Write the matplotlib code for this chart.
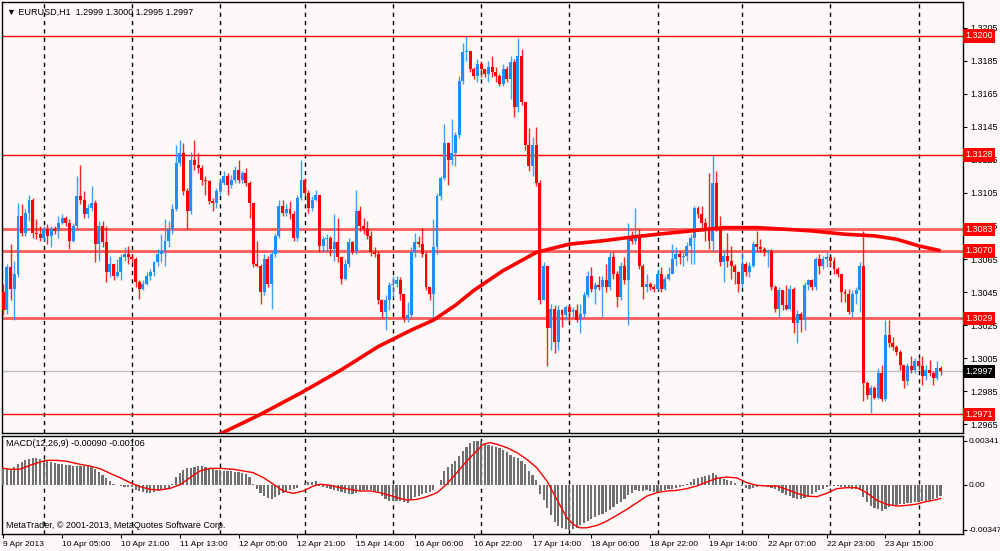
import numpy as np
import matplotlib
matplotlib.use("Agg")
import matplotlib.pyplot as plt
import matplotlib.transforms as mtrans

# EURUSD H1 bars, 9 Apr 2013 13:00 .. 24 Apr 06:00
opens = [1.3045, 1.3034, 1.3060, 1.3047, 1.3056, 1.3091, 1.3081, 1.3093, 1.3101, 1.3081, 1.3080, 1.3078, 1.3083, 1.3079, 1.3083, 1.3082,
         1.3087, 1.3090, 1.3087, 1.3076, 1.3085, 1.3103, 1.3101, 1.3092, 1.3096, 1.3099, 1.3074, 1.3085, 1.3075, 1.3057, 1.3062, 1.3055,
         1.3057, 1.3066, 1.3068, 1.3066, 1.3065, 1.3051, 1.3047, 1.3050, 1.3055, 1.3057, 1.3063, 1.3068, 1.3070, 1.3076, 1.3083, 1.3095,
         1.3123, 1.3129, 1.3106, 1.3094, 1.3125, 1.3122, 1.3120, 1.3113, 1.3112, 1.3100, 1.3099, 1.3106, 1.3111, 1.3115, 1.3110, 1.3113,
         1.3119, 1.3113, 1.3117, 1.3111, 1.3099, 1.3062, 1.3061, 1.3045, 1.3065, 1.3050, 1.3068, 1.3079, 1.3097, 1.3093, 1.3095, 1.3092,
         1.3078, 1.3102, 1.3113, 1.3105, 1.3096, 1.3101, 1.3104, 1.3073, 1.3077, 1.3078, 1.3071, 1.3075, 1.3066, 1.3053, 1.3062, 1.3075,
         1.3070, 1.3094, 1.3085, 1.3083, 1.3079, 1.3069, 1.3068, 1.3040, 1.3033, 1.3040, 1.3049, 1.3050, 1.3052, 1.3044, 1.3029, 1.3031,
         1.3069, 1.3075, 1.3074, 1.3068, 1.3048, 1.3044, 1.3072, 1.3103, 1.3114, 1.3135, 1.3125, 1.3129, 1.3140, 1.3173, 1.3190, 1.3191,
         1.3180, 1.3176, 1.3183, 1.3180, 1.3177, 1.3181, 1.3178, 1.3176, 1.3171, 1.3180, 1.3174, 1.3184, 1.3157, 1.3188, 1.3160, 1.3134,
         1.3121, 1.3134, 1.3111, 1.3040, 1.3061, 1.3023, 1.3035, 1.3015, 1.3034, 1.3031, 1.3036, 1.3033, 1.3034, 1.3028, 1.3032, 1.3043,
         1.3055, 1.3047, 1.3049, 1.3048, 1.3052, 1.3048, 1.3066, 1.3056, 1.3042, 1.3061, 1.3052, 1.3078, 1.3076, 1.3079, 1.3061, 1.3048,
         1.3050, 1.3048, 1.3047, 1.3056, 1.3047, 1.3053, 1.3056, 1.3065, 1.3068, 1.3066, 1.3067, 1.3073, 1.3078, 1.3096, 1.3092, 1.3087,
         1.3083, 1.3076, 1.3111, 1.3084, 1.3063, 1.3067, 1.3064, 1.3061, 1.3057, 1.3050, 1.3062, 1.3057, 1.3061, 1.3074, 1.3072, 1.3071,
         1.3069, 1.3070, 1.3048, 1.3035, 1.3046, 1.3037, 1.3035, 1.3047, 1.3026, 1.3032, 1.3028, 1.3049, 1.3052, 1.3048, 1.3065, 1.3061,
         1.3065, 1.3066, 1.3064, 1.3059, 1.3056, 1.3045, 1.3044, 1.3033, 1.3044, 1.3046, 1.3061, 1.2990, 1.2983, 1.2987, 1.2981, 1.2996,
         1.2980, 1.3019, 1.3014, 1.3012, 1.3009, 1.3001, 1.2991, 1.3000, 1.2998, 1.3003, 1.3000, 1.2994, 1.2998, 1.2996, 1.2993, 1.2999]
highs = [1.3050, 1.3062, 1.3074, 1.3064, 1.3099, 1.3098, 1.3095, 1.3104, 1.3102, 1.3089, 1.3085, 1.3085, 1.3086, 1.3085, 1.3085, 1.3091,
         1.3092, 1.3091, 1.3089, 1.3087, 1.3115, 1.3122, 1.3106, 1.3098, 1.3109, 1.3101, 1.3088, 1.3088, 1.3085, 1.3067, 1.3062, 1.3065,
         1.3068, 1.3072, 1.3073, 1.3068, 1.3066, 1.3052, 1.3052, 1.3057, 1.3059, 1.3064, 1.3071, 1.3080, 1.3089, 1.3088, 1.3098, 1.3134,
         1.3137, 1.3135, 1.3108, 1.3130, 1.3137, 1.3129, 1.3122, 1.3115, 1.3113, 1.3102, 1.3108, 1.3114, 1.3118, 1.3117, 1.3116, 1.3121,
         1.3125, 1.3118, 1.3120, 1.3112, 1.3099, 1.3076, 1.3062, 1.3068, 1.3067, 1.3070, 1.3081, 1.3101, 1.3101, 1.3098, 1.3100, 1.3094,
         1.3104, 1.3125, 1.3114, 1.3107, 1.3103, 1.3107, 1.3104, 1.3079, 1.3080, 1.3079, 1.3092, 1.3090, 1.3066, 1.3065, 1.3078, 1.3076,
         1.3107, 1.3097, 1.3090, 1.3088, 1.3082, 1.3072, 1.3070, 1.3041, 1.3043, 1.3051, 1.3055, 1.3055, 1.3054, 1.3044, 1.3039, 1.3072,
         1.3081, 1.3079, 1.3084, 1.3069, 1.3048, 1.3089, 1.3105, 1.3115, 1.3147, 1.3136, 1.3150, 1.3142, 1.3176, 1.3196, 1.3200, 1.3191,
         1.3181, 1.3186, 1.3185, 1.3180, 1.3185, 1.3188, 1.3181, 1.3177, 1.3183, 1.3182, 1.3188, 1.3186, 1.3199, 1.3192, 1.3160, 1.3144,
         1.3139, 1.3145, 1.3113, 1.3063, 1.3061, 1.3038, 1.3037, 1.3037, 1.3035, 1.3037, 1.3037, 1.3036, 1.3038, 1.3038, 1.3045, 1.3058,
         1.3060, 1.3051, 1.3055, 1.3055, 1.3062, 1.3069, 1.3069, 1.3058, 1.3063, 1.3066, 1.3087, 1.3082, 1.3096, 1.3083, 1.3062, 1.3056,
         1.3051, 1.3050, 1.3059, 1.3060, 1.3055, 1.3060, 1.3074, 1.3072, 1.3070, 1.3070, 1.3075, 1.3080, 1.3097, 1.3097, 1.3097, 1.3090,
         1.3117, 1.3128, 1.3118, 1.3091, 1.3070, 1.3081, 1.3073, 1.3062, 1.3058, 1.3069, 1.3063, 1.3063, 1.3076, 1.3082, 1.3077, 1.3072,
         1.3071, 1.3071, 1.3049, 1.3048, 1.3046, 1.3049, 1.3049, 1.3048, 1.3034, 1.3033, 1.3051, 1.3053, 1.3053, 1.3066, 1.3068, 1.3067,
         1.3069, 1.3067, 1.3066, 1.3060, 1.3056, 1.3047, 1.3047, 1.3046, 1.3048, 1.3063, 1.3082, 1.2991, 1.2989, 1.2988, 1.2999, 1.3001,
         1.3028, 1.3028, 1.3018, 1.3013, 1.3010, 1.3001, 1.3002, 1.3006, 1.3005, 1.3005, 1.3006, 1.3001, 1.3004, 1.2997, 1.3003, 1.3000]
lows = [1.3031, 1.3032, 1.3040, 1.3028, 1.3054, 1.3079, 1.3079, 1.3088, 1.3078, 1.3077, 1.3076, 1.3076, 1.3074, 1.3072, 1.3080, 1.3078,
        1.3086, 1.3085, 1.3071, 1.3075, 1.3084, 1.3098, 1.3090, 1.3090, 1.3094, 1.3063, 1.3064, 1.3072, 1.3051, 1.3054, 1.3052, 1.3054,
        1.3052, 1.3064, 1.3062, 1.3063, 1.3048, 1.3041, 1.3046, 1.3049, 1.3052, 1.3055, 1.3061, 1.3063, 1.3061, 1.3072, 1.3080, 1.3094,
        1.3121, 1.3104, 1.3083, 1.3092, 1.3119, 1.3117, 1.3110, 1.3104, 1.3098, 1.3094, 1.3096, 1.3104, 1.3110, 1.3104, 1.3108, 1.3111,
        1.3111, 1.3111, 1.3109, 1.3090, 1.3060, 1.3060, 1.3038, 1.3043, 1.3048, 1.3035, 1.3066, 1.3078, 1.3091, 1.3091, 1.3089, 1.3076,
        1.3076, 1.3101, 1.3103, 1.3093, 1.3094, 1.3100, 1.3069, 1.3069, 1.3069, 1.3067, 1.3064, 1.3063, 1.3050, 1.3052, 1.3060, 1.3068,
        1.3068, 1.3082, 1.3080, 1.3077, 1.3067, 1.3066, 1.3038, 1.3030, 1.3022, 1.3034, 1.3042, 1.3048, 1.3040, 1.3027, 1.3027, 1.3030,
        1.3066, 1.3072, 1.3066, 1.3046, 1.3040, 1.3028, 1.3068, 1.3101, 1.3113, 1.3110, 1.3122, 1.3121, 1.3138, 1.3171, 1.3185, 1.3178,
        1.3174, 1.3172, 1.3175, 1.3175, 1.3172, 1.3175, 1.3172, 1.3170, 1.3170, 1.3172, 1.3162, 1.3151, 1.3154, 1.3158, 1.3131, 1.3118,
        1.3115, 1.3109, 1.3038, 1.3040, 1.3000, 1.3010, 1.3008, 1.3010, 1.3024, 1.3028, 1.3027, 1.3030, 1.3027, 1.3020, 1.3030, 1.3042,
        1.3045, 1.3038, 1.3046, 1.3030, 1.3045, 1.3046, 1.3053, 1.3036, 1.3040, 1.3050, 1.3025, 1.3074, 1.3074, 1.3059, 1.3041, 1.3045,
        1.3046, 1.3045, 1.3046, 1.3045, 1.3046, 1.3052, 1.3057, 1.3061, 1.3062, 1.3061, 1.3064, 1.3062, 1.3062, 1.3090, 1.3082, 1.3076,
        1.3071, 1.3069, 1.3082, 1.3061, 1.3051, 1.3060, 1.3053, 1.3050, 1.3045, 1.3048, 1.3055, 1.3054, 1.3060, 1.3070, 1.3069, 1.3067,
        1.3060, 1.3046, 1.3033, 1.3030, 1.3034, 1.3034, 1.3034, 1.3020, 1.3014, 1.3021, 1.3022, 1.3046, 1.3046, 1.3046, 1.3056, 1.3059,
        1.3060, 1.3060, 1.3056, 1.3054, 1.3039, 1.3039, 1.3032, 1.3030, 1.3038, 1.3033, 1.2979, 1.2980, 1.2972, 1.2980, 1.2980, 1.2979,
        1.2979, 1.3012, 1.3010, 1.3007, 1.2998, 1.2987, 1.2989, 1.2996, 1.2996, 1.2998, 1.2989, 1.2992, 1.2994, 1.2989, 1.2992, 1.2995]
closes = [1.3034, 1.3060, 1.3047, 1.3056, 1.3091, 1.3081, 1.3093, 1.3101, 1.3081, 1.3080, 1.3078, 1.3083, 1.3079, 1.3083, 1.3082, 1.3087,
          1.3090, 1.3087, 1.3076, 1.3085, 1.3103, 1.3101, 1.3092, 1.3096, 1.3099, 1.3074, 1.3085, 1.3075, 1.3057, 1.3062, 1.3055, 1.3057,
          1.3066, 1.3068, 1.3066, 1.3065, 1.3051, 1.3047, 1.3050, 1.3055, 1.3057, 1.3063, 1.3068, 1.3070, 1.3076, 1.3083, 1.3095, 1.3123,
          1.3129, 1.3106, 1.3094, 1.3125, 1.3122, 1.3120, 1.3113, 1.3112, 1.3100, 1.3099, 1.3106, 1.3111, 1.3115, 1.3110, 1.3113, 1.3119,
          1.3113, 1.3117, 1.3111, 1.3099, 1.3062, 1.3061, 1.3045, 1.3065, 1.3050, 1.3068, 1.3079, 1.3097, 1.3093, 1.3095, 1.3092, 1.3078,
          1.3102, 1.3113, 1.3105, 1.3096, 1.3101, 1.3104, 1.3073, 1.3077, 1.3078, 1.3071, 1.3075, 1.3066, 1.3053, 1.3062, 1.3075, 1.3070,
          1.3094, 1.3085, 1.3083, 1.3079, 1.3069, 1.3068, 1.3040, 1.3033, 1.3040, 1.3049, 1.3050, 1.3052, 1.3044, 1.3029, 1.3031, 1.3069,
          1.3075, 1.3074, 1.3068, 1.3048, 1.3044, 1.3072, 1.3103, 1.3114, 1.3135, 1.3125, 1.3129, 1.3140, 1.3173, 1.3190, 1.3191, 1.3180,
          1.3176, 1.3183, 1.3180, 1.3177, 1.3181, 1.3178, 1.3176, 1.3171, 1.3180, 1.3174, 1.3184, 1.3157, 1.3188, 1.3160, 1.3134, 1.3121,
          1.3134, 1.3111, 1.3040, 1.3061, 1.3023, 1.3035, 1.3015, 1.3034, 1.3031, 1.3036, 1.3033, 1.3034, 1.3028, 1.3032, 1.3043, 1.3055,
          1.3047, 1.3049, 1.3048, 1.3052, 1.3048, 1.3066, 1.3056, 1.3042, 1.3061, 1.3052, 1.3078, 1.3076, 1.3079, 1.3061, 1.3048, 1.3050,
          1.3048, 1.3047, 1.3056, 1.3047, 1.3053, 1.3056, 1.3065, 1.3068, 1.3066, 1.3067, 1.3073, 1.3078, 1.3096, 1.3092, 1.3087, 1.3083,
          1.3076, 1.3111, 1.3084, 1.3063, 1.3067, 1.3064, 1.3061, 1.3057, 1.3050, 1.3062, 1.3057, 1.3061, 1.3074, 1.3072, 1.3071, 1.3069,
          1.3070, 1.3048, 1.3035, 1.3046, 1.3037, 1.3035, 1.3047, 1.3026, 1.3032, 1.3028, 1.3049, 1.3052, 1.3048, 1.3065, 1.3061, 1.3065,
          1.3066, 1.3064, 1.3059, 1.3056, 1.3045, 1.3044, 1.3033, 1.3044, 1.3046, 1.3061, 1.2990, 1.2983, 1.2987, 1.2981, 1.2996, 1.2980,
          1.3019, 1.3014, 1.3012, 1.3009, 1.3001, 1.2991, 1.3000, 1.2998, 1.3003, 1.3000, 1.2994, 1.2998, 1.2996, 1.2993, 1.2999, 1.2997]

# thick moving average (bar index, price)
ma_bars = [57, 70, 81, 92, 102, 111, 117, 123, 128, 136, 145, 154, 163, 170, 178, 187, 196, 205, 213, 220, 229, 237, 243, 249, 255]
ma_vals = [1.2957, 1.2971, 1.2984, 1.2998, 1.3012, 1.3022, 1.3028, 1.3037, 1.3046, 1.3058, 1.3069, 1.3074, 1.3076, 1.3078,
           1.3080, 1.3082, 1.3084, 1.3084, 1.3083, 1.3082, 1.3080, 1.3079, 1.3077, 1.3073, 1.3070]

# MACD(12,26,9) histogram, one value per bar
macd_hist = [0.00119, 0.00119, 0.00124, 0.00139, 0.00157, 0.00173, 0.00191, 0.00201, 0.00204, 0.00204, 0.00196, 0.00188, 0.00181, 0.00175, 0.00168, 0.00163,
             0.00157, 0.00155, 0.00150, 0.00144, 0.00144, 0.00144, 0.00147, 0.00150, 0.00139, 0.00119, 0.00098, 0.00072, 0.00052, 0.00031, 0.00005, -0.00005,
             -0.00010, -0.00015, -0.00015, -0.00021, -0.00041, -0.00049, -0.00057, -0.00062, -0.00062, -0.00057, -0.00049, -0.00041, -0.00036, -0.00023, 0.00003, 0.00062,
             0.00093, 0.00114, 0.00126, 0.00132, 0.00139, 0.00144, 0.00144, 0.00134, 0.00124, 0.00119, 0.00116, 0.00111, 0.00108, 0.00106, 0.00106, 0.00101,
             0.00098, 0.00093, 0.00083, 0.00062, 0.00003, -0.00036, -0.00062, -0.00088, -0.00101, -0.00108, -0.00098, -0.00077, -0.00062, -0.00049, -0.00041, -0.00036,
             -0.00026, -0.00005, 0.00015, 0.00021, 0.00021, 0.00026, -0.00010, -0.00018, -0.00028, -0.00036, -0.00041, -0.00046, -0.00057, -0.00067, -0.00075, -0.00072,
             -0.00062, -0.00046, -0.00041, -0.00041, -0.00041, -0.00046, -0.00062, -0.00088, -0.00114, -0.00124, -0.00126, -0.00126, -0.00129, -0.00134, -0.00139, -0.00114,
             -0.00098, -0.00088, -0.00075, -0.00067, -0.00057, -0.00041, -0.00003, 0.00036, 0.00103, 0.00139, 0.00157, 0.00186, 0.00222, 0.00261, 0.00294, 0.00325,
             0.00338, 0.00341, 0.00338, 0.00317, 0.00310, 0.00302, 0.00292, 0.00281, 0.00268, 0.00253, 0.00232, 0.00217, 0.00206, 0.00186, 0.00157, 0.00106,
             0.00077, 0.00036, -0.00075, -0.00119, -0.00178, -0.00237, -0.00289, -0.00320, -0.00335, -0.00346, -0.00347, -0.00346, -0.00333, -0.00315, -0.00299, -0.00281,
             -0.00268, -0.00253, -0.00237, -0.00227, -0.00209, -0.00194, -0.00170, -0.00152, -0.00132, -0.00111, -0.00083, -0.00062, -0.00044, -0.00046, -0.00049, -0.00044,
             -0.00049, -0.00057, -0.00057, -0.00049, -0.00041, -0.00034, -0.00031, -0.00026, -0.00018, -0.00010, 0.00003, 0.00021, 0.00041, 0.00054, 0.00062, 0.00070,
             0.00077, 0.00088, 0.00072, 0.00057, 0.00046, 0.00039, 0.00026, 0.00013, 0.00000, -0.00013, -0.00026, -0.00031, -0.00026, -0.00018, -0.00010, -0.00010,
             -0.00015, -0.00023, -0.00034, -0.00049, -0.00062, -0.00080, -0.00090, -0.00101, -0.00108, -0.00114, -0.00101, -0.00085, -0.00072, -0.00057, -0.00044, -0.00031,
             -0.00021, -0.00010, -0.00010, -0.00010, -0.00015, -0.00018, -0.00026, -0.00031, -0.00034, -0.00044, -0.00093, -0.00134, -0.00165, -0.00178, -0.00191, -0.00204,
             -0.00191, -0.00173, -0.00163, -0.00157, -0.00152, -0.00152, -0.00142, -0.00139, -0.00134, -0.00132, -0.00129, -0.00124, -0.00115, -0.00110, -0.00102, -0.00090]

# signal line, points
signal_bars = [-0.9, 1.8, 4.5, 7.3, 10.0, 11.8, 14.5, 17.2, 20.9, 23.6, 26.3, 29.0, 31.8, 34.5, 37.2, 39.9, 42.6, 45.4, 48.1, 50.8,
               53.5, 56.2, 59.0, 62.6, 65.3, 68.0, 70.8, 73.5, 76.2, 78.9, 81.6, 84.4, 86.2, 88.9, 91.6, 94.3, 97.1, 99.8, 102.5, 105.2,
               107.9, 109.8, 112.5, 115.2, 118.0, 120.6, 123.4, 126.1, 128.8, 130.6, 132.4, 134.3, 137.0, 139.7, 142.4, 145.1, 147.9, 150.6,
               153.3, 155.1, 156.9, 158.7, 161.5, 164.2, 166.9, 169.6, 172.4, 175.1, 177.8, 180.5, 183.2, 185.9, 188.7, 191.4, 194.1, 196.8,
               199.6, 202.3, 205.0, 207.7, 210.4, 213.1, 215.9, 218.6, 221.3, 224.0, 226.7, 229.5, 232.2, 234.9, 237.6, 240.4, 243.1, 245.8,
               248.5, 251.2, 254.0, 255.0]
signal_vals = [0.00132, 0.00119, 0.00119, 0.00150, 0.00175, 0.00188, 0.00188, 0.00181, 0.00157, 0.00144, 0.00124, 0.00088, 0.00054, 0.00015,
               -0.00015, -0.00036, -0.00041, -0.00028, 0.00000, 0.00054, 0.00106, 0.00126, 0.00126, 0.00119, 0.00106, 0.00093, 0.00054, 0.00003,
               -0.00049, -0.00067, -0.00049, -0.00010, 0.00003, -0.00005, -0.00023, -0.00036, -0.00049, -0.00049, -0.00062, -0.00083, -0.00106,
               -0.00119, -0.00114, -0.00093, -0.00062, 0.00003, 0.00093, 0.00183, 0.00261, 0.00312, 0.00325, 0.00312, 0.00286, 0.00248, 0.00196,
               0.00132, 0.00028, -0.00114, -0.00255, -0.00307, -0.00333, -0.00333, -0.00315, -0.00281, -0.00237, -0.00191, -0.00139, -0.00088,
               -0.00062, -0.00049, -0.00044, -0.00031, -0.00010, 0.00021, 0.00049, 0.00059, 0.00052, 0.00015, -0.00005, -0.00010, -0.00010,
               -0.00036, -0.00067, -0.00088, -0.00093, -0.00067, -0.00031, -0.00023, -0.00023, -0.00062, -0.00119, -0.00152, -0.00165, -0.00160,
               -0.00150, -0.00130, -0.00115, -0.00106]

time_labels = ["9 Apr 2013", "10 Apr 05:00", "10 Apr 21:00", "11 Apr 13:00", "12 Apr 05:00", "12 Apr 21:00",
               "15 Apr 14:00", "16 Apr 06:00", "16 Apr 22:00", "17 Apr 14:00", "18 Apr 06:00", "18 Apr 22:00",
               "19 Apr 14:00", "22 Apr 07:00", "22 Apr 23:00", "23 Apr 15:00"]
label_bars = [0, 16, 32, 48, 64, 80, 96, 112, 128, 144, 160, 176, 192, 208, 224, 240]
day_starts = [11, 35, 59, 82, 106, 130, 154, 178, 201, 225, 249]

price_ticks = [1.3205, 1.3185, 1.3165, 1.3145, 1.3125, 1.3105, 1.3085, 1.3065, 1.3045, 1.3025, 1.3005, 1.2985, 1.2965]
thin_levels = [1.3200, 1.3128, 1.2971]
wide_levels = [1.3083, 1.3070, 1.3029]
last_price = 1.2997
macd_ticks = [0.00341, 0.0, -0.00347]
macd_tick_labels = ["0.00341", "0.00", "-0.00347"]

BG = "#fcf9f8"
BULL = "#1e8fff"
BEAR = "#ff0000"
plt.rcParams['font.family'] = ['Liberation Sans', 'DejaVu Sans']

W, H = 1000, 551
fig = plt.figure(figsize=(W / 100, H / 100), dpi=100, facecolor=BG)
ax = fig.add_axes([2 / W, 1 - 433 / H, 961 / W, 431 / H], facecolor=BG)
ax2 = fig.add_axes([2 / W, 1 - 534 / H, 961 / W, 98 / H], facecolor=BG, sharex=ax)

x = np.arange(len(closes))
o, hi, lo, c = (np.array(v) for v in (opens, highs, lows, closes))
cols = np.where(c >= o, BULL, BEAR)

# candles
ax.vlines(x, lo, hi, colors=cols, lw=1, alpha=0.85, zorder=3)
ax.bar(x, np.maximum(np.abs(c - o), 0.00004), bottom=np.minimum(o, c), width=0.8,
       color=cols, lw=0, zorder=4)
ax.plot(ma_bars, ma_vals, color="red", lw=2.6, zorder=5, solid_capstyle="butt")

# levels
for lv in thin_levels:
    ax.axhline(lv, color="red", lw=1, zorder=2)
for lv in wide_levels:
    ax.axhline(lv, color="#ff5a5a", lw=2, zorder=2)
ax.axhline(last_price, color="#c0c0c0", lw=1, zorder=1)

for a in (ax, ax2):
    for d in day_starts:
        a.axvline(d, color="black", lw=1, ls=(0, (3, 3)), zorder=1)
    for s in a.spines.values():
        s.set_color("black")
        s.set_linewidth(1)

ax.set_xlim(-0.35, 261.1)
ax.set_ylim(1.29597, 1.322055)
ax.yaxis.tick_right()
ax.set_yticks(price_ticks)
ax.set_yticklabels([f"{p:.4f}" for p in price_ticks])
ax.tick_params(axis="y", direction="out", length=3, width=0.8, pad=2, labelsize=6.5)
ax.tick_params(axis="x", bottom=False, labelbottom=False)

trans = mtrans.blended_transform_factory(ax.transAxes, ax.transData)
for lv in thin_levels + wide_levels:
    ax.text(1.002, lv, f"{lv:.4f}", transform=trans, color="white", fontsize=6.5, va="center", ha="left",
            bbox=dict(boxstyle="square,pad=0.25", fc="red", ec="none"), clip_on=False, zorder=6)
ax.text(1.002, last_price, f"{last_price:.4f}", transform=trans, color="white", fontsize=6.5, va="center",
        ha="left", bbox=dict(boxstyle="square,pad=0.25", fc="black", ec="none"), clip_on=False, zorder=6)

# MACD panel
ax2.bar(x, macd_hist, width=0.6, color="#707070", lw=0, zorder=3)
ax2.plot(signal_bars, signal_vals, color="red", lw=1, zorder=4)
ax2.set_ylim(-0.00381, 0.00376)
ax2.yaxis.tick_right()
ax2.set_yticks(macd_ticks)
ax2.set_yticklabels(macd_tick_labels)
ax2.tick_params(axis="y", direction="out", length=3, width=0.8, pad=1, labelsize=6)
ax2.set_xticks(label_bars)
ax2.set_xticklabels(time_labels, ha="left")
ax2.tick_params(axis="x", direction="out", length=3, width=0.8, pad=2, labelsize=6)

fig.text(7 / W, 1 - 12 / H, "\u25bc EURUSD,H1  1.2999 1.3000 1.2995 1.2997", fontsize=6.5, va="center")
fig.text(6 / W, 1 - 443 / H, "MACD(12,26,9) -0.00090 -0.00106", fontsize=6.5, va="center")
fig.text(6 / W, 1 - 526 / H, "MetaTrader, \u00a9 2001-2013, MetaQuotes Software Corp.", fontsize=6.5, va="center")

fig.savefig("out.png", dpi=100, facecolor=BG)
